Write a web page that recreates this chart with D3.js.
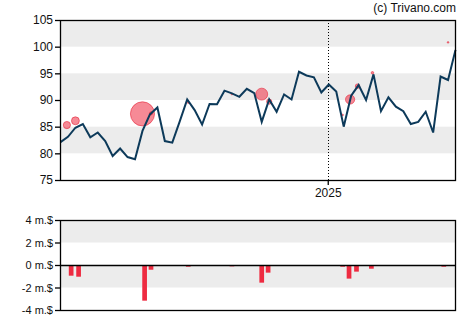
<!DOCTYPE html>
<html><head><meta charset="utf-8">
<script src="https://cdn.jsdelivr.net/npm/d3@7"></script>
<style>body{margin:0;background:#fff}svg{display:block}text{font-family:Arial,"Liberation Sans",sans-serif}</style>
</head><body><svg id="c" width="470" height="325"></svg>
<script>
const startDate = "2024-04-25";
const prices = [82.1,83.1,84.8,85.5,83.0,83.9,82.3,79.5,80.9,79.3,78.9,84.2,87.3,88.6,82.3,82.0,86.0,90.1,88.1,85.4,89.25,89.2,91.75,91.25,90.6,92.1,91.3,85.9,90.1,87.8,91.05,90.1,95.3,94.6,94.25,91.4,92.9,91.6,85.0,90.8,92.8,90.0,94.8,87.9,90.5,88.75,87.9,85.5,85.9,87.8,83.9,94.4,93.75,99.4];
const barDates = ["2024-05-05","2024-05-12","2024-07-13","2024-07-19","2024-08-23","2024-10-03","2024-10-31","2024-11-06","2025-01-15","2025-01-21","2025-01-28","2025-02-11","2025-04-20"];
const barValues = [-0.95,-1.04,-3.17,-0.42,-0.15,-0.12,-1.57,-0.68,-0.15,-1.21,-0.59,-0.33,-0.15];
const bubbleDates = ["2024-05-01","2024-05-09","2024-07-11","2024-07-19","2024-08-23","2024-10-03","2024-10-31","2024-11-07","2025-01-15","2025-01-22","2025-01-29","2025-02-12","2025-04-24"];
const bubblePrices = [85.3,86.1,87.4,87.5,89.5,91.1,91.1,89.7,87.2,90.1,92.6,95.1,100.8];
const priceTicks = [75,80,85,90,95,100,105];
const flowTicks = [-4,-2,0,2,4];
const yearTicks = ["2025-01-01"];

const parse = d3.timeParse("%Y-%m-%d");
const t0 = parse(startDate);
const dates = prices.map((_, i) => d3.timeDay.offset(t0, i * 7));
const svg = d3.select("#c");
const L = 60, R = 456, T1 = 20, B1 = 180, T2 = 220, B2 = 310;

const x = d3.scaleTime().domain([dates[0], dates[dates.length - 1]]).range([L + 0.5, R - 0.5]);
const y = d3.scaleLinear().domain([75, 105]).range([B1, T1]);
const y2 = d3.scaleLinear().domain([-4, 4]).range([B2, T2]);

// bands top
const g1 = svg.append("g");
[[80,85],[90,95],[100,105]].forEach(b => {
  g1.append("rect").attr("x", L).attr("width", R - L).attr("y", y(b[1])).attr("height", y(b[0]) - y(b[1])).attr("fill", "#ececec");
});
// bands bottom
[[-2,0],[2,4]].forEach(b => {
  g1.append("rect").attr("x", L).attr("width", R - L).attr("y", y2(b[1])).attr("height", y2(b[0]) - y2(b[1])).attr("fill", "#ececec");
});

// 2025 dotted
yearTicks.forEach(s => {
  const xx = Math.round(x(parse(s))) + 0.5;
  svg.append("line").attr("x1", xx).attr("x2", xx).attr("y1", T1).attr("y2", B1)
    .attr("stroke", "#000").attr("stroke-width", 1).attr("stroke-dasharray", "1,2");
});

// bubbles
const rScale = d3.scaleLinear().domain([0, 1]).range([0, 3.8]);
svg.append("g").selectAll("circle").data(bubbleDates).join("circle")
  .attr("cx", d => x(parse(d)))
  .attr("cy", (d, i) => y(bubblePrices[i]))
  .attr("r", (d, i) => Math.max(0.8, rScale(Math.abs(barValues[i]))))
  .attr("fill", "rgba(240,60,80,0.6)")
  .attr("stroke", "rgba(230,40,60,0.6)").attr("stroke-width", 1);

// line
svg.append("path").datum(prices)
  .attr("d", d3.line().x((d, i) => x(dates[i])).y(d => y(d)))
  .attr("fill", "none").attr("stroke", "#0d3a5a").attr("stroke-width", 2).attr("stroke-linejoin", "miter");

// frames
svg.append("rect").attr("x", L + 0.5).attr("y", T1 + 0.5).attr("width", R - L - 1).attr("height", B1 - T1).attr("fill", "none").attr("stroke", "#000").attr("stroke-width", 1.3);
svg.append("rect").attr("x", L + 0.5).attr("y", T2 + 0.5).attr("width", R - L - 1).attr("height", B2 - T2).attr("fill", "none").attr("stroke", "#000").attr("stroke-width", 1.3);

// bars
svg.append("g").selectAll("rect").data(barDates).join("rect")
  .attr("x", d => x(parse(d)) - 2.35)
  .attr("width", 4.7)
  .attr("y", (d, i) => y2(Math.max(0, barValues[i])))
  .attr("height", (d, i) => Math.abs(y2(barValues[i]) - y2(0)))
  .attr("fill", "#ee2b41");
// zero line
svg.append("line").attr("x1", L).attr("x2", R).attr("y1", y2(0) + 0.5).attr("y2", y2(0) + 0.5).attr("stroke", "#000").attr("stroke-width", 1.3);

// axes
const ay = svg.append("g").attr("transform", `translate(${L},0)`)
  .call(d3.axisLeft(y).tickValues(priceTicks).tickSize(5).tickPadding(2).tickFormat(d3.format("d")));
ay.select(".domain").remove();
ay.selectAll("line").attr("stroke", "#000").attr("stroke-width", 1.3);
ay.selectAll("text").attr("font-size", 12).attr("fill", "#111").attr("font-family", "Arial, 'Liberation Sans', sans-serif");

const ay2 = svg.append("g").attr("transform", `translate(${L},0)`)
  .call(d3.axisLeft(y2).tickValues(flowTicks).tickSize(5).tickPadding(2).tickFormat(d => d + " m.$"));
ay2.select(".domain").remove();
ay2.selectAll("line").attr("stroke", "#000").attr("stroke-width", 1.3);
ay2.selectAll("text").attr("font-size", 11).attr("fill", "#111").attr("font-family", "Arial, 'Liberation Sans', sans-serif");

const ax = svg.append("g").attr("transform", `translate(0,${B1})`)
  .call(d3.axisBottom(x).tickValues(yearTicks.map(parse)).tickSize(5).tickPadding(3).tickFormat(d3.timeFormat("%Y")));
ax.select(".domain").remove();
ax.selectAll("line").attr("stroke", "#000").attr("stroke-width", 1.3);
ax.selectAll("text").attr("font-size", 12).attr("fill", "#111").attr("font-family", "Arial, 'Liberation Sans', sans-serif");

svg.append("text").attr("x", R).attr("y", 12).attr("text-anchor", "end")
  .attr("font-size", 12).attr("fill", "#111").text("(c) Trivano.com");
</script></body></html>
